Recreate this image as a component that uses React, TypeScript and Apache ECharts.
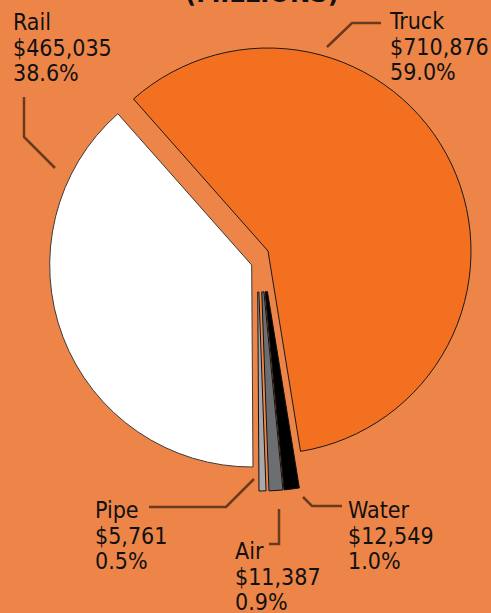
import React, { useEffect, useRef } from "react";
import * as echarts from "echarts";

// ---- data ----
const categories = ["Truck", "Water", "Air", "Pipe", "Rail"];
const values = [710876, 12549, 11387, 5761, 465035];
const shareLabels = ["59.0%", "1.0%", "0.9%", "0.5%", "38.6%"];
const titleText = "(MILLIONS)";

// ---- styling / layout (kept separate from data) ----
const sliceColors = ["#F37021", "#000000", "#6D6E71", "#A7A9AC", "#FFFFFF"];
const sliceBorders = ["#1a1a1a", "#111111", "#111111", "#111111", "#3a3a3a"];
const sliceCenters: [number, number][] = [
  [268, 251],
  [261.5, 255],
  [260.4, 255],
  [257.5, 255],
  [251.7, 265],
];
const sliceRadii: [number, number][] = [
  [0, 203],
  [37, 236],
  [37, 236],
  [37, 236],
  [0, 202],
];
const labelPos: [number, number][] = [
  [390, 8.7],
  [348, 497.3],
  [235, 538.3],
  [95, 497.3],
  [13, 9.3],
];
const leaderLines: number[][][] = [
  [[327, 47], [352, 23], [381, 23]],
  [[303, 497], [312, 506], [342, 506]],
  [[279, 509], [279, 544], [269, 544]],
  [[149, 507], [226, 507], [254, 479]],
  [[24, 97], [24, 137], [55, 168]],
];

const BG = "#EE8548";
const FONT = "'DejaVu Sans Condensed', 'DejaVu Sans', sans-serif";

export default function App() {
  const ref = useRef<HTMLDivElement>(null);
  useEffect(() => {
    if (!ref.current) return;
    const chart = echarts.init(ref.current, undefined, { renderer: "svg" });

    const series = categories.map((name, i) => ({
      type: "pie",
      name,
      silent: true,
      clockwise: true,
      startAngle: 131.5,
      center: sliceCenters[i],
      radius: sliceRadii[i],
      label: { show: false },
      labelLine: { show: false },
      emphasis: { disabled: true },
      data: categories.map((c, j) => ({
        name: c,
        value: values[j],
        itemStyle:
          j === i
            ? { color: sliceColors[j], borderColor: sliceBorders[j], borderWidth: 1 }
            : { color: "transparent", borderWidth: 0 },
      })),
    }));

    const graphic: any[] = [];
    categories.forEach((name, i) => {
      graphic.push({
        type: "polyline",
        shape: { points: leaderLines[i] },
        style: { stroke: "#6B3A1E", lineWidth: 2.5, fill: null },
        silent: true,
      });
      graphic.push({
        type: "text",
        x: labelPos[i][0],
        y: labelPos[i][1],
        style: {
          text: `${name}\n$${values[i].toLocaleString("en-US")}\n${shareLabels[i]}`,
          fontSize: 23,
          fontFamily: FONT,
          lineHeight: 25.5,
          fill: "#111111",
          align: "left",
          verticalAlign: "top",
        },
        silent: true,
      });
    });
    graphic.push({
      type: "text",
      x: 262,
      y: -8,
      style: {
        text: titleText,
        fontSize: 27,
        fontWeight: "bold",
        fontFamily: FONT,
        fill: "#111111",
        align: "center",
        verticalAlign: "middle",
      },
      silent: true,
    });

    chart.setOption({
      animation: false,
      backgroundColor: BG,
      series,
      graphic,
    });
    return () => chart.dispose();
  }, []);
  return (
    <div
      ref={ref}
      style={{ position: "absolute", left: 0, top: 0, width: 491, height: 613, background: BG }}
    />
  );
}
